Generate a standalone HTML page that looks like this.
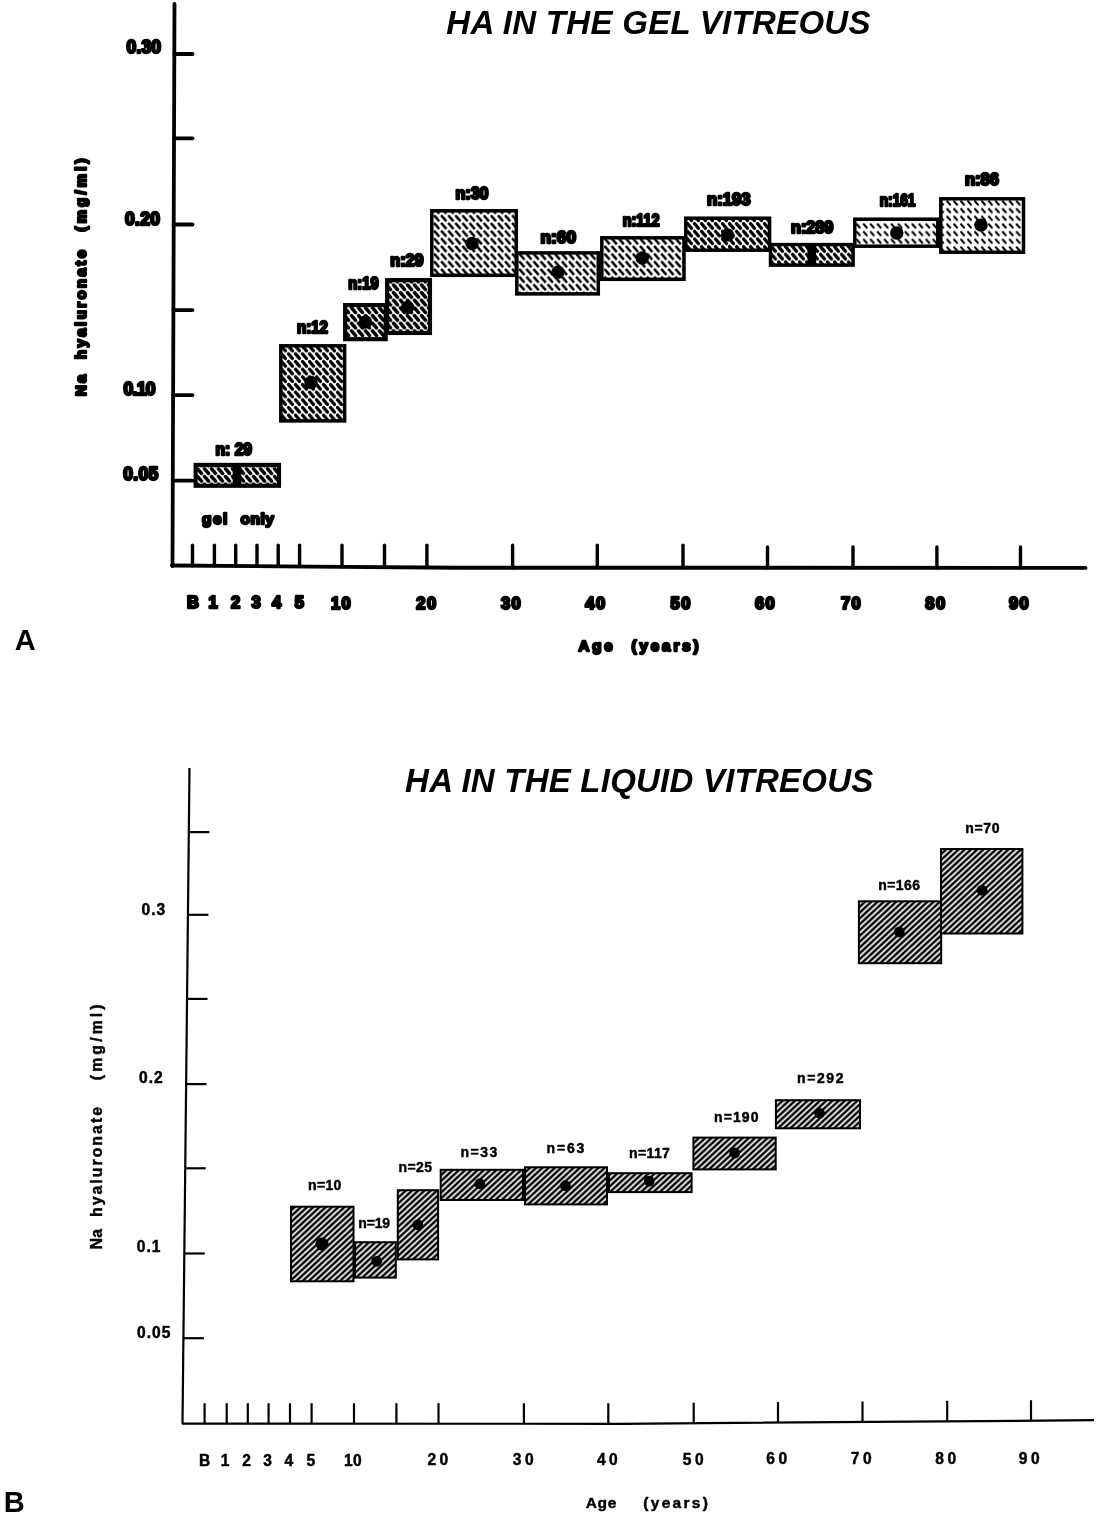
<!DOCTYPE html>
<html><head><meta charset="utf-8"><title>HA in the vitreous</title>
<style>
html,body{margin:0;padding:0;background:#fff;}
body{width:1096px;height:1515px;overflow:hidden;}
svg{display:block;filter:grayscale(1);}
text{font-family:"Liberation Sans", sans-serif;font-weight:bold;fill:#000;}
.ta{stroke:#000;stroke-width:2.4px;stroke-linejoin:round;}
.ti{font-style:italic;}
.tb{stroke:#000;stroke-width:0.45px;stroke-linejoin:round;}
</style></head><body>
<svg width="1096" height="1515" viewBox="0 0 1096 1515">
<defs>
<pattern id="pa0" patternUnits="userSpaceOnUse" width="7" height="7.66" x="0" y="0">
<line x1="-5.55" y1="-6.16" x2="-1.45" y2="-1.50" stroke="#000" stroke-width="3.5" stroke-linecap="round"/>
<line x1="-5.55" y1="1.50" x2="-1.45" y2="6.16" stroke="#000" stroke-width="3.5" stroke-linecap="round"/>
<line x1="-5.55" y1="9.16" x2="-1.45" y2="13.82" stroke="#000" stroke-width="3.5" stroke-linecap="round"/>
<line x1="1.45" y1="-6.16" x2="5.55" y2="-1.50" stroke="#000" stroke-width="3.5" stroke-linecap="round"/>
<line x1="1.45" y1="1.50" x2="5.55" y2="6.16" stroke="#000" stroke-width="3.5" stroke-linecap="round"/>
<line x1="1.45" y1="9.16" x2="5.55" y2="13.82" stroke="#000" stroke-width="3.5" stroke-linecap="round"/>
<line x1="8.45" y1="-6.16" x2="12.55" y2="-1.50" stroke="#000" stroke-width="3.5" stroke-linecap="round"/>
<line x1="8.45" y1="1.50" x2="12.55" y2="6.16" stroke="#000" stroke-width="3.5" stroke-linecap="round"/>
<line x1="8.45" y1="9.16" x2="12.55" y2="13.82" stroke="#000" stroke-width="3.5" stroke-linecap="round"/>
</pattern>
<pattern id="pa1" patternUnits="userSpaceOnUse" width="7" height="7.66" x="0" y="0">
<line x1="-5.45" y1="-6.06" x2="-1.55" y2="-1.60" stroke="#000" stroke-width="3.3" stroke-linecap="round"/>
<line x1="-5.45" y1="1.60" x2="-1.55" y2="6.06" stroke="#000" stroke-width="3.3" stroke-linecap="round"/>
<line x1="-5.45" y1="9.26" x2="-1.55" y2="13.72" stroke="#000" stroke-width="3.3" stroke-linecap="round"/>
<line x1="1.55" y1="-6.06" x2="5.45" y2="-1.60" stroke="#000" stroke-width="3.3" stroke-linecap="round"/>
<line x1="1.55" y1="1.60" x2="5.45" y2="6.06" stroke="#000" stroke-width="3.3" stroke-linecap="round"/>
<line x1="1.55" y1="9.26" x2="5.45" y2="13.72" stroke="#000" stroke-width="3.3" stroke-linecap="round"/>
<line x1="8.55" y1="-6.06" x2="12.45" y2="-1.60" stroke="#000" stroke-width="3.3" stroke-linecap="round"/>
<line x1="8.55" y1="1.60" x2="12.45" y2="6.06" stroke="#000" stroke-width="3.3" stroke-linecap="round"/>
<line x1="8.55" y1="9.26" x2="12.45" y2="13.72" stroke="#000" stroke-width="3.3" stroke-linecap="round"/>
</pattern>
<pattern id="pa2" patternUnits="userSpaceOnUse" width="7.1" height="7.66" x="0" y="0">
<line x1="-5.52" y1="-6.10" x2="-1.58" y2="-1.56" stroke="#000" stroke-width="2.5" stroke-linecap="round"/>
<line x1="-5.52" y1="1.56" x2="-1.58" y2="6.10" stroke="#000" stroke-width="2.5" stroke-linecap="round"/>
<line x1="-5.52" y1="9.22" x2="-1.58" y2="13.76" stroke="#000" stroke-width="2.5" stroke-linecap="round"/>
<line x1="1.58" y1="-6.10" x2="5.52" y2="-1.56" stroke="#000" stroke-width="2.5" stroke-linecap="round"/>
<line x1="1.58" y1="1.56" x2="5.52" y2="6.10" stroke="#000" stroke-width="2.5" stroke-linecap="round"/>
<line x1="1.58" y1="9.22" x2="5.52" y2="13.76" stroke="#000" stroke-width="2.5" stroke-linecap="round"/>
<line x1="8.68" y1="-6.10" x2="12.62" y2="-1.56" stroke="#000" stroke-width="2.5" stroke-linecap="round"/>
<line x1="8.68" y1="1.56" x2="12.62" y2="6.10" stroke="#000" stroke-width="2.5" stroke-linecap="round"/>
<line x1="8.68" y1="9.22" x2="12.62" y2="13.76" stroke="#000" stroke-width="2.5" stroke-linecap="round"/>
</pattern>
<pattern id="pa3" patternUnits="userSpaceOnUse" width="6.95" height="7.66" x="0" y="0">
<line x1="-4.95" y1="-5.56" x2="-2.00" y2="-2.11" stroke="#000" stroke-width="2.05" stroke-linecap="round"/>
<line x1="-4.95" y1="2.10" x2="-2.00" y2="5.55" stroke="#000" stroke-width="2.05" stroke-linecap="round"/>
<line x1="-4.95" y1="9.76" x2="-2.00" y2="13.21" stroke="#000" stroke-width="2.05" stroke-linecap="round"/>
<line x1="2.00" y1="-5.56" x2="4.95" y2="-2.11" stroke="#000" stroke-width="2.05" stroke-linecap="round"/>
<line x1="2.00" y1="2.10" x2="4.95" y2="5.55" stroke="#000" stroke-width="2.05" stroke-linecap="round"/>
<line x1="2.00" y1="9.76" x2="4.95" y2="13.21" stroke="#000" stroke-width="2.05" stroke-linecap="round"/>
<line x1="8.95" y1="-5.56" x2="11.90" y2="-2.11" stroke="#000" stroke-width="2.05" stroke-linecap="round"/>
<line x1="8.95" y1="2.10" x2="11.90" y2="5.55" stroke="#000" stroke-width="2.05" stroke-linecap="round"/>
<line x1="8.95" y1="9.76" x2="11.90" y2="13.21" stroke="#000" stroke-width="2.05" stroke-linecap="round"/>
</pattern>
<pattern id="pb" patternUnits="userSpaceOnUse" width="20" height="4.25" patternTransform="rotate(-43)">
<rect x="0" y="0" width="20" height="4.25" fill="#000"/>
<rect x="0" y="1.25" width="20" height="1.75" fill="#fff"/>
</pattern>
</defs>
<rect width="1096" height="1515" fill="#fff"/>

<g stroke="#000" stroke-width="3.8" stroke-linecap="round" fill="none">
<line x1="174.5" y1="4" x2="172.5" y2="566"/>
<polyline points="172,565.5 310,566.6 460,567.7 1085.5,567.9" stroke-width="3.9"/>
<line x1="174.3" y1="54" x2="192.5" y2="54"/>
<line x1="174.0" y1="138.3" x2="192.5" y2="138.3"/>
<line x1="173.7" y1="224.5" x2="192.5" y2="224.5"/>
<line x1="173.4" y1="310.1" x2="192.5" y2="310.1"/>
<line x1="173.1" y1="395.1" x2="192.5" y2="395.1"/>
<line x1="172.8" y1="480.7" x2="192.5" y2="480.7"/>
</g>
<g stroke="#000" stroke-width="3.4" stroke-linecap="round" fill="none">
<line x1="192.5" y1="545.2" x2="192.5" y2="565.7"/>
<line x1="214.4" y1="545.2" x2="214.4" y2="565.8"/>
<line x1="235.7" y1="545.2" x2="235.7" y2="566.0"/>
<line x1="257" y1="545.2" x2="257" y2="566.1"/>
<line x1="278.2" y1="545.2" x2="278.2" y2="566.3"/>
<line x1="299.6" y1="545.2" x2="299.6" y2="566.5"/>
<line x1="342" y1="545.2" x2="342" y2="566.8"/>
<line x1="384.5" y1="545.2" x2="384.5" y2="567.1"/>
<line x1="426.9" y1="545.2" x2="426.9" y2="567.4"/>
<line x1="512.6" y1="545.2" x2="512.6" y2="567.7"/>
<line x1="597.3" y1="545.2" x2="597.3" y2="567.7"/>
<line x1="683" y1="545.2" x2="683" y2="567.7"/>
<line x1="767.5" y1="547.0" x2="767.5" y2="567.7"/>
<line x1="853" y1="547.0" x2="853" y2="567.7"/>
<line x1="936.9" y1="547.0" x2="936.9" y2="567.7"/>
<line x1="1020.5" y1="547.0" x2="1020.5" y2="567.7"/>
</g>
<rect x="195.6" y="464.9" width="83.4" height="20.9" fill="url(#pa0)" stroke="#000" stroke-width="4.1"/>
<rect x="280.8" y="345.8" width="63.8" height="75.1" fill="url(#pa1)" stroke="#000" stroke-width="3.5"/>
<rect x="345.1" y="305.1" width="40.6" height="34.1" fill="url(#pa0)" stroke="#000" stroke-width="4.1"/>
<rect x="387.1" y="280.1" width="42.9" height="52.9" fill="url(#pa0)" stroke="#000" stroke-width="4.1"/>
<rect x="431.8" y="210.8" width="84.5" height="64.5" fill="url(#pa2)" stroke="#000" stroke-width="3.5"/>
<rect x="516.8" y="252.9" width="81.5" height="41.0" fill="url(#pa2)" stroke="#000" stroke-width="3.5"/>
<rect x="601.8" y="237.8" width="82.2" height="41.5" fill="url(#pa2)" stroke="#000" stroke-width="3.5"/>
<rect x="685.8" y="218.2" width="83.8" height="32.0" fill="url(#pa1)" stroke="#000" stroke-width="3.5"/>
<rect x="770.5" y="244.6" width="82.6" height="20.5" fill="url(#pa1)" stroke="#000" stroke-width="3.5"/>
<rect x="854.8" y="219.2" width="83.0" height="27.0" fill="url(#pa3)" stroke="#000" stroke-width="3.5"/>
<rect x="940.8" y="198.8" width="82.7" height="53.4" fill="url(#pa3)" stroke="#000" stroke-width="3.5"/>
<rect x="232.7" y="464.8" width="8.6" height="21.0" fill="#000"/>
<text class="ta" x="233.8" y="454.5" font-size="16.2" text-anchor="middle" textLength="36.5" lengthAdjust="spacingAndGlyphs">n: 29</text>
<circle cx="311" cy="382.5" r="6.7" fill="#000"/>
<text class="ta" x="312.5" y="332.7" font-size="16.2" text-anchor="middle" textLength="31.0" lengthAdjust="spacingAndGlyphs">n:12</text>
<circle cx="365.5" cy="322" r="6.7" fill="#000"/>
<text class="ta" x="363.5" y="289.2" font-size="16.2" text-anchor="middle" textLength="30.3" lengthAdjust="spacingAndGlyphs">n:19</text>
<circle cx="407.6" cy="307.5" r="6.7" fill="#000"/>
<text class="ta" x="406.9" y="266.0" font-size="16.2" text-anchor="middle" textLength="33.2" lengthAdjust="spacingAndGlyphs">n:29</text>
<circle cx="472" cy="243.5" r="6.7" fill="#000"/>
<text class="ta" x="472.0" y="199.0" font-size="16.2" text-anchor="middle" textLength="33.0" lengthAdjust="spacingAndGlyphs">n:30</text>
<circle cx="558" cy="272.2" r="6.7" fill="#000"/>
<text class="ta" x="558.3" y="243.0" font-size="16.2" text-anchor="middle" textLength="35.4" lengthAdjust="spacingAndGlyphs">n:60</text>
<circle cx="642.3" cy="258" r="6.7" fill="#000"/>
<text class="ta" x="641.2" y="225.7" font-size="16.2" text-anchor="middle" textLength="36.9" lengthAdjust="spacingAndGlyphs">n:112</text>
<circle cx="727.6" cy="234.9" r="6.7" fill="#000"/>
<text class="ta" x="728.8" y="205.0" font-size="16.2" text-anchor="middle" textLength="43.6" lengthAdjust="spacingAndGlyphs">n:193</text>
<rect x="807.5" y="244.8" width="8.6" height="20.0" fill="#000"/>
<text class="ta" x="812.2" y="233.0" font-size="16.2" text-anchor="middle" textLength="42.4" lengthAdjust="spacingAndGlyphs">n:289</text>
<circle cx="896.8" cy="233" r="6.7" fill="#000"/>
<text class="ta" x="897.6" y="205.6" font-size="16.2" text-anchor="middle" textLength="35.7" lengthAdjust="spacingAndGlyphs">n:161</text>
<circle cx="981" cy="225.1" r="6.7" fill="#000"/>
<text class="ta" x="982.0" y="184.6" font-size="16.2" text-anchor="middle" textLength="34.0" lengthAdjust="spacingAndGlyphs">n:86</text>
<text class="ta" x="143.8" y="53.0" font-size="17.5" text-anchor="middle" textLength="34.5" lengthAdjust="spacing">0.30</text>
<text class="ta" x="142.5" y="224.5" font-size="17.5" text-anchor="middle" textLength="35.0" lengthAdjust="spacing">0.20</text>
<text class="ta" x="139.5" y="395.1" font-size="17.5" text-anchor="middle" textLength="32.0" lengthAdjust="spacing">0.10</text>
<text class="ta" x="140.7" y="480.4" font-size="17.5" text-anchor="middle" textLength="35.0" lengthAdjust="spacing">0.05</text>
<text class="ta" x="193" y="608.3" font-size="16.5" text-anchor="middle" letter-spacing="0">B</text>
<text class="ta" x="213" y="608.3" font-size="16.5" text-anchor="middle" letter-spacing="0">1</text>
<text class="ta" x="235.5" y="608.4" font-size="16.5" text-anchor="middle" letter-spacing="0">2</text>
<text class="ta" x="256" y="608.4" font-size="16.5" text-anchor="middle" letter-spacing="0">3</text>
<text class="ta" x="276.5" y="608.4" font-size="16.5" text-anchor="middle" letter-spacing="0">4</text>
<text class="ta" x="299.3" y="608.4" font-size="16.5" text-anchor="middle" letter-spacing="0">5</text>
<text class="ta" x="341.6" y="608.5" font-size="16.5" text-anchor="middle" letter-spacing="1.5">10</text>
<text class="ta" x="427.0" y="608.6" font-size="16.5" text-anchor="middle" letter-spacing="1.5">20</text>
<text class="ta" x="511.6" y="608.7" font-size="16.5" text-anchor="middle" letter-spacing="1.5">30</text>
<text class="ta" x="596.0" y="608.8" font-size="16.5" text-anchor="middle" letter-spacing="1.5">40</text>
<text class="ta" x="681.2" y="608.9" font-size="16.5" text-anchor="middle" letter-spacing="1.5">50</text>
<text class="ta" x="765.6" y="609.0" font-size="16.5" text-anchor="middle" letter-spacing="1.5">60</text>
<text class="ta" x="851.6" y="609.1" font-size="16.5" text-anchor="middle" letter-spacing="1.5">70</text>
<text class="ta" x="936.0" y="609.2" font-size="16.5" text-anchor="middle" letter-spacing="1.5">80</text>
<text class="ta" x="1019.6" y="609.3" font-size="16.5" text-anchor="middle" letter-spacing="1.5">90</text>
<text class="ta" x="214.7" y="523.5" font-size="15.5" text-anchor="middle" textLength="25.3" lengthAdjust="spacing">gel</text>
<text class="ta" x="257.2" y="523.5" font-size="15.5" text-anchor="middle" textLength="33.5" lengthAdjust="spacing">only</text>
<text class="ta" x="595.5" y="650.5" font-size="15" text-anchor="middle" textLength="34.0" lengthAdjust="spacing">Age</text>
<text class="ta" x="665.0" y="650.5" font-size="15" text-anchor="middle" textLength="67.0" lengthAdjust="spacing">(years)</text>
<text class="ta" transform="translate(86.3,385.4) rotate(-90)" x="0" y="0" font-size="14.8" text-anchor="middle" textLength="21.2" lengthAdjust="spacing">Na</text>
<text class="ta" transform="translate(86.3,304.5) rotate(-90)" x="0" y="0" font-size="14.8" text-anchor="middle" textLength="109.0" lengthAdjust="spacing">hyaluronate</text>
<text class="ta" transform="translate(86.3,195.0) rotate(-90)" x="0" y="0" font-size="14.8" text-anchor="middle" textLength="73.0" lengthAdjust="spacing">(mg/ml)</text>
<text x="25.2" y="649.6" font-size="29" text-anchor="middle">A</text>
<text class="ti" x="446.3" y="34" font-size="33" textLength="424.2" lengthAdjust="spacing">HA IN THE GEL VITREOUS</text>
<g stroke="#000" stroke-width="2.2" stroke-linecap="butt" fill="none">
<line x1="189.5" y1="768" x2="182.5" y2="1424"/>
<polyline points="182,1423.6 620,1423.8 1094,1420.2"/>
<line x1="188.8" y1="832.1" x2="209.3" y2="832.1"/>
<line x1="187.9" y1="914.8" x2="208.4" y2="914.8"/>
<line x1="187.0" y1="998.9" x2="207.5" y2="998.9"/>
<line x1="186.1" y1="1084.1" x2="206.6" y2="1084.1"/>
<line x1="185.2" y1="1168.3" x2="205.7" y2="1168.3"/>
<line x1="184.3" y1="1253.5" x2="204.8" y2="1253.5"/>
<line x1="183.4" y1="1338.2" x2="203.9" y2="1338.2"/>
<line x1="204.6" y1="1403.2" x2="204.6" y2="1423.7"/>
<line x1="226.7" y1="1403.2" x2="226.7" y2="1423.7"/>
<line x1="247.8" y1="1403.2" x2="247.8" y2="1423.7"/>
<line x1="268.6" y1="1403.2" x2="268.6" y2="1423.7"/>
<line x1="290" y1="1403.2" x2="290" y2="1423.7"/>
<line x1="311.6" y1="1403.2" x2="311.6" y2="1423.7"/>
<line x1="354" y1="1403.2" x2="354" y2="1423.7"/>
<line x1="396.4" y1="1403.2" x2="396.4" y2="1423.7"/>
<line x1="438.5" y1="1403.2" x2="438.5" y2="1423.7"/>
<line x1="523.9" y1="1403.2" x2="523.9" y2="1423.7"/>
<line x1="608.3" y1="1403.2" x2="608.3" y2="1423.7"/>
<line x1="693.7" y1="1402.7" x2="693.7" y2="1423.2"/>
<line x1="778" y1="1402.1" x2="778" y2="1422.6"/>
<line x1="862.5" y1="1401.5" x2="862.5" y2="1422.0"/>
<line x1="947.2" y1="1400.8" x2="947.2" y2="1421.3"/>
<line x1="1031" y1="1400.2" x2="1031" y2="1420.7"/>
</g>
<rect x="291.0" y="1206.7" width="62.5" height="74.6" fill="url(#pb)" stroke="#000" stroke-width="2.0"/>
<rect x="355.0" y="1242.2" width="40.8" height="35.4" fill="url(#pb)" stroke="#000" stroke-width="2.0"/>
<rect x="397.8" y="1190.2" width="40.3" height="69.2" fill="url(#pb)" stroke="#000" stroke-width="2.0"/>
<rect x="440.7" y="1169.8" width="82.3" height="30.2" fill="url(#pb)" stroke="#000" stroke-width="2.0"/>
<rect x="525.0" y="1167.3" width="82.0" height="37.1" fill="url(#pb)" stroke="#000" stroke-width="2.0"/>
<rect x="609.0" y="1173.2" width="82.6" height="18.9" fill="url(#pb)" stroke="#000" stroke-width="2.0"/>
<rect x="693.4" y="1137.6" width="82.3" height="31.8" fill="url(#pb)" stroke="#000" stroke-width="2.0"/>
<rect x="775.9" y="1100.2" width="84.1" height="28.1" fill="url(#pb)" stroke="#000" stroke-width="2.0"/>
<rect x="858.9" y="901.3" width="82.3" height="61.9" fill="url(#pb)" stroke="#000" stroke-width="2.0"/>
<rect x="941.0" y="849.0" width="81.4" height="84.5" fill="url(#pb)" stroke="#000" stroke-width="2.0"/>
<circle cx="322" cy="1244" r="6.5" fill="#000"/>
<text class="tb" x="324.7" y="1189.8" font-size="14" text-anchor="middle" textLength="33.4" lengthAdjust="spacing">n=10</text>
<circle cx="376.7" cy="1261.3" r="5.4" fill="#000"/>
<text class="tb" x="374.2" y="1227.8" font-size="14" text-anchor="middle" textLength="31.8" lengthAdjust="spacing">n=19</text>
<circle cx="417.8" cy="1224.8" r="5.4" fill="#000"/>
<text class="tb" x="415.3" y="1171.6" font-size="14" text-anchor="middle" textLength="33.6" lengthAdjust="spacing">n=25</text>
<circle cx="479.8" cy="1183.7" r="5.4" fill="#000"/>
<text class="tb" x="478.9" y="1156.5" font-size="14" text-anchor="middle" textLength="37.0" lengthAdjust="spacing">n=33</text>
<circle cx="565.4" cy="1185.7" r="5.4" fill="#000"/>
<text class="tb" x="565.4" y="1152.7" font-size="14" text-anchor="middle" textLength="37.8" lengthAdjust="spacing">n=63</text>
<circle cx="649.2" cy="1181.1" r="5.4" fill="#000"/>
<text class="tb" x="649.5" y="1158.3" font-size="14" text-anchor="middle" textLength="40.8" lengthAdjust="spacing">n=117</text>
<circle cx="734.7" cy="1153" r="5.4" fill="#000"/>
<text class="tb" x="736.3" y="1122.1" font-size="14" text-anchor="middle" textLength="44.4" lengthAdjust="spacing">n=190</text>
<circle cx="819.6" cy="1113.3" r="5.4" fill="#000"/>
<text class="tb" x="820.3" y="1083.4" font-size="14" text-anchor="middle" textLength="46.5" lengthAdjust="spacing">n=292</text>
<circle cx="899.3" cy="931.9" r="5.4" fill="#000"/>
<text class="tb" x="899.1" y="889.6" font-size="14" text-anchor="middle" textLength="41.7" lengthAdjust="spacing">n=166</text>
<circle cx="982" cy="890.3" r="5.4" fill="#000"/>
<text class="tb" x="982.4" y="833.4" font-size="14" text-anchor="middle" textLength="34.1" lengthAdjust="spacing">n=70</text>
<text class="tb" x="153.8" y="914.5" font-size="15.6" text-anchor="middle" letter-spacing="1">0.3</text>
<text class="tb" x="151.4" y="1082.9" font-size="15.6" text-anchor="middle" letter-spacing="1">0.2</text>
<text class="tb" x="149.2" y="1252.3" font-size="15.6" text-anchor="middle" letter-spacing="1">0.1</text>
<text class="tb" x="154.3" y="1337.6" font-size="15.6" text-anchor="middle" letter-spacing="1">0.05</text>
<text class="tb" x="204.7" y="1465.9" font-size="15.6" text-anchor="middle" letter-spacing="0">B</text>
<text class="tb" x="225.0" y="1465.8" font-size="15.6" text-anchor="middle" letter-spacing="0">1</text>
<text class="tb" x="246.7" y="1465.8" font-size="15.6" text-anchor="middle" letter-spacing="0">2</text>
<text class="tb" x="267.7" y="1465.7" font-size="15.6" text-anchor="middle" letter-spacing="0">3</text>
<text class="tb" x="288.9" y="1465.7" font-size="15.6" text-anchor="middle" letter-spacing="0">4</text>
<text class="tb" x="310.8" y="1465.6" font-size="15.6" text-anchor="middle" letter-spacing="0">5</text>
<text class="tb" x="353.1" y="1465.5" font-size="15.6" text-anchor="middle" letter-spacing="0.5">10</text>
<text class="tb" x="439.6" y="1465.3" font-size="15.6" text-anchor="middle" letter-spacing="3.5">20</text>
<text class="tb" x="525.0" y="1465.0" font-size="15.6" text-anchor="middle" letter-spacing="3.5">30</text>
<text class="tb" x="609.1" y="1464.8" font-size="15.6" text-anchor="middle" letter-spacing="3.5">40</text>
<text class="tb" x="695.0" y="1464.6" font-size="15.6" text-anchor="middle" letter-spacing="3.5">50</text>
<text class="tb" x="778.4" y="1464.4" font-size="15.6" text-anchor="middle" letter-spacing="3.5">60</text>
<text class="tb" x="863.0" y="1464.1" font-size="15.6" text-anchor="middle" letter-spacing="3.5">70</text>
<text class="tb" x="947.5" y="1463.9" font-size="15.6" text-anchor="middle" letter-spacing="3.5">80</text>
<text class="tb" x="1031.0" y="1463.7" font-size="15.6" text-anchor="middle" letter-spacing="3.5">90</text>
<text class="tb" x="601.0" y="1508" font-size="15.5" text-anchor="middle" textLength="30.5" lengthAdjust="spacing">Age</text>
<text class="tb" x="675.6" y="1508" font-size="15.5" text-anchor="middle" textLength="64.7" lengthAdjust="spacing">(years)</text>
<text class="tb" transform="translate(102.3,1239.1) rotate(-90)" x="0" y="0" font-size="15.8" text-anchor="middle" textLength="20.3" lengthAdjust="spacing">Na</text>
<text class="tb" transform="translate(102.3,1162.0) rotate(-90)" x="0" y="0" font-size="15.8" text-anchor="middle" textLength="110.0" lengthAdjust="spacing">hyaluronate</text>
<text class="tb" transform="translate(102.3,1042.3) rotate(-90)" x="0" y="0" font-size="15.8" text-anchor="middle" textLength="75.8" lengthAdjust="spacing">(mg/ml)</text>
<text x="14.2" y="1512.2" font-size="29" text-anchor="middle">B</text>
<text class="ti" x="405.1" y="792" font-size="33" textLength="468.2" lengthAdjust="spacing">HA IN THE LIQUID VITREOUS</text>
</svg></body></html>
